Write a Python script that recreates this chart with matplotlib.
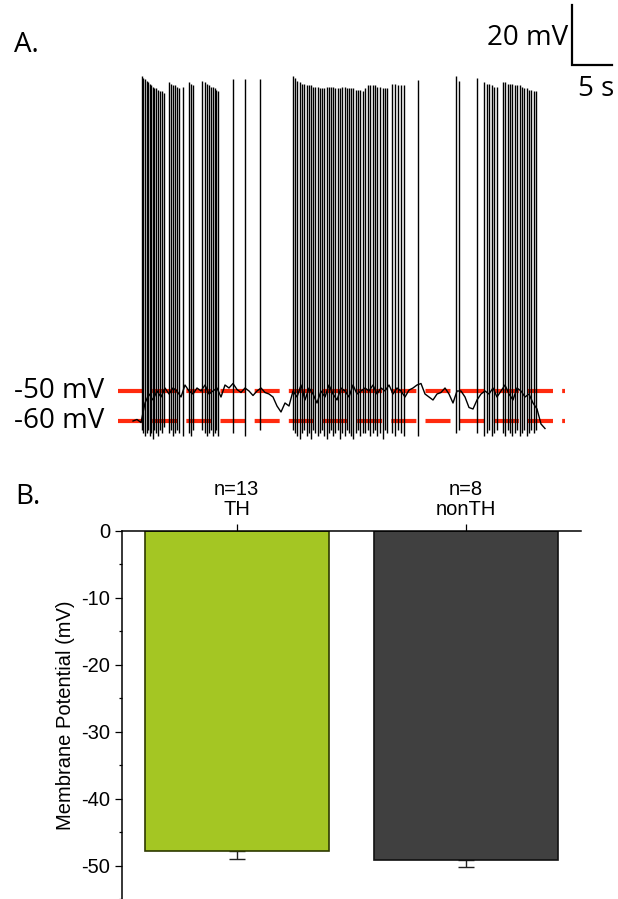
import numpy as np
import matplotlib
matplotlib.use('Agg')
import matplotlib.pyplot as plt

# DATA
#===========================================================================
# Panel A: membrane potential trace (s, mV)
base_t = np.arange(0, 52, 0.5)
base_v = [-60, -59.5, -60.5,
          -54, -51, -53, -50, -52, -49,
          -51, -49, -50, -52, -48, -50, -51, -49, -50, -48, -51, -50, -49, -52,
          -48, -49, -47.5, -49.5, -50.5, -49, -50, -51.5, -50, -49, -50.5, -51,
          -52, -55, -57, -54, -55,
          -50, -52, -48, -53, -49, -51, -54, -50, -52, -48, -51, -53, -49, -50,
          -52, -48, -51, -50, -49,
          -50, -48, -51, -49, -50, -48, -51, -49, -50, -52,
          -49.7, -49, -48, -47.5, -51, -52, -53, -51, -50.5, -49, -51, -54,
          -50, -50, -52, -55.5, -56, -53, -51, -50,
          -51, -49, -52, -50, -48, -51, -53, -49, -50, -52, -51, -54, -56,
          -61, -62.5]

spike_t = [1.1, 1.3, 1.5, 1.7, 1.9, 2.1, 2.3, 2.5, 2.65, 2.9, 3.1, 3.4, 3.65, 3.9,
           4.5, 4.75, 5.0, 5.25, 5.5, 5.75, 6.25,
           7.0, 7.25, 7.5,
           8.6, 9.0, 9.25, 9.5, 9.75, 10.0, 10.2, 10.4, 10.6,
           12.5, 14.0, 15.9,
           20.0, 20.3, 20.55, 20.85, 21.1, 21.4, 21.7, 21.95, 22.25, 22.5, 22.8,
           23.1, 23.35, 23.65, 23.9, 24.2, 24.5, 24.75, 25.05, 25.3, 25.6, 25.9,
           26.15, 26.45, 26.7, 27.0, 27.3, 27.55, 27.85, 28.1, 28.4, 28.7,
           29.0, 29.4, 29.6, 30.0, 30.25, 30.5, 30.9, 31.25, 31.5, 31.75,
           32.4, 32.75, 33.1, 33.5, 33.9,
           35.6,
           40.4, 40.75, 43.0,
           43.9, 44.25, 44.5, 44.9, 45.1, 45.5,
           46.25, 46.5, 46.9, 47.1, 47.4, 47.75, 48.0, 48.4, 48.6, 48.9, 49.25,
           49.5, 49.75, 50.1, 50.4]

spike_peak = [55, 54.5, 54, 53.5, 53, 52.5, 52, 51.5, 51, 51, 50.5, 50, 50, 49.5,
              53, 52.5, 52, 52, 51.5, 51, 51.5,
              53, 52.5, 52,
              53.5, 53, 52.5, 52, 51.5, 51.5, 51, 50.5, 50,
              54, 54, 54,
              55, 54.5, 53.5, 53, 52.5, 52.5, 52, 52, 52, 51.5, 51.5,
              51.5, 51, 51, 51, 51.5, 51.5, 51.5, 51.5, 51, 51, 51,
              51.5, 51.5, 51, 51, 51, 51, 50.5, 50.5, 50.5, 50,
              51, 52, 52, 52, 52, 51.5, 51.5, 51, 51, 51,
              52.5, 52.5, 52, 52, 52,
              53.7,
              55, 53.5, 54.5,
              53, 52.5, 52.5, 52, 51.5, 51.5,
              53, 53, 52.5, 52.5, 52.5, 52, 52, 52, 51.5, 51, 51,
              50.5, 50.5, 50, 50]

spike_trough = [-63, -64, -65, -64, -63, -65, -64, -66, -63, -64, -65, -63, -64, -62,
                -64, -63, -65, -64, -63, -64, -65,
                -64, -65, -63,
                -63, -64, -65, -64, -63, -65, -64, -63, -65,
                -64, -65, -63,
                -63, -64, -65, -66, -64, -63, -65, -64, -66, -63, -64,
                -65, -64, -63, -65, -66, -64, -63, -65, -64, -63, -66,
                -64, -65, -63, -64, -65, -66, -64, -63, -65, -64,
                -64, -63, -65, -64, -63, -65, -64, -66, -63, -64,
                -64, -65, -63, -64, -65,
                -65,
                -64, -63, -64,
                -65, -64, -63, -65, -64, -63,
                -64, -65, -63, -64, -65, -64, -63, -65, -64, -63, -65,
                -64, -63, -64, -63]

ref_levels = [-50, -60]
ref_labels = ['-50 mV', '-60 mV']

# Panel B: resting membrane potential
groups = ['TH', 'nonTH']
n_cells = [13, 8]
mean_mv = [-47.8, -49.2]
sem_mv = [1.2, 1.0]
bar_colors = ['#a4c623', '#404040']
edge_colors = ['#2e3a00', '#111111']

# FIGURE
#===========================================================================
W, H = 618, 899
fig = plt.figure(figsize=(W / 100, H / 100), dpi=100)
label_font = 'Open Sans'

# Panel A axes span image rows 0..460; 8 px per s, 3 px per mV
ax_a = fig.add_axes([0, (H - 460) / H, 1, 460 / H])
ax_a.set_xlim(-133 / 8, (W - 133) / 8)
ax_a.set_ylim(-60 - 39 / 3, -60 + 421 / 3)
ax_a.axis('off')

for lvl in ref_levels:
    ax_a.plot([-1.9, 54.0], [lvl, lvl], color='#ff2a0e', lw=3,
              linestyle=(0, (6, 2.2)), zorder=1, solid_capstyle='butt')
for lvl, lab in zip(ref_levels, ref_labels):
    ax_a.text(-14.9, lvl, lab, ha='left', va='center', fontsize=20,
              family=label_font)

ax_a.plot(base_t, base_v, color='k', lw=1.0, zorder=3)
ax_a.vlines(spike_t, spike_trough, spike_peak, color='k', lw=1.0, zorder=3)

# scale bar
sb_x, sb_y = 54.875, 58.7
ax_a.plot([sb_x, sb_x, sb_x + 5], [sb_y + 20, sb_y, sb_y], color='k', lw=1.6,
          solid_joinstyle='miter')
ax_a.text(sb_x - 0.5, sb_y + 9, '20 mV', ha='right', va='center', fontsize=20,
          family=label_font)
ax_a.text(sb_x + 3.0, sb_y - 8, '5 s', ha='center', va='center', fontsize=20,
          family=label_font)
ax_a.text(-14.9, 65.5, 'A.', ha='left', va='center', fontsize=20,
          family=label_font)

# Panel B
fig.text(15 / W, 1 - 497 / H, 'B.', ha='left', va='center', fontsize=20,
         family=label_font)

ax_b = fig.add_axes([122 / W, 0, 459 / W, (H - 531) / H])
x = np.arange(1, len(groups) + 1)
ax_b.bar(x, mean_mv, width=0.8, color=bar_colors, edgecolor=edge_colors,
         linewidth=1.2, zorder=2)
ax_b.errorbar(x, mean_mv, yerr=[sem_mv, [0, 0]], fmt='none', ecolor='#222222',
              elinewidth=1, capsize=6, capthick=1, zorder=1)
ax_b.set_xlim(0.5, 2.5)
ax_b.set_ylim(-55, 0)

ax_b.spines['bottom'].set_visible(False)
ax_b.spines['right'].set_visible(False)
ax_b.spines['top'].set_linewidth(1.1)
ax_b.spines['left'].set_linewidth(1.1)
ax_b.xaxis.tick_top()
ax_b.set_xticks(x)
ax_b.set_xticklabels([f'n={n}\n{g}' for n, g in zip(n_cells, groups)],
                     family='Liberation Sans', fontsize=14.5, linespacing=1.1)
ax_b.set_yticks(np.arange(0, -51, -10))
ax_b.set_yticks(np.arange(-5, -56, -10), minor=True)
ax_b.set_yticklabels([f'{v:d}' for v in np.arange(0, -51, -10)],
                     family='Liberation Sans', fontsize=14.5)
ax_b.tick_params(axis='both', which='major', direction='out', length=5.3,
                 width=0.9, pad=3)
ax_b.tick_params(axis='y', which='minor', direction='out', length=2.4, width=0.9)
ax_b.set_ylabel('Membrane Potential (mV)', family='Liberation Sans',
                fontsize=14.5, labelpad=5)

fig.savefig('out.png', dpi=100)
